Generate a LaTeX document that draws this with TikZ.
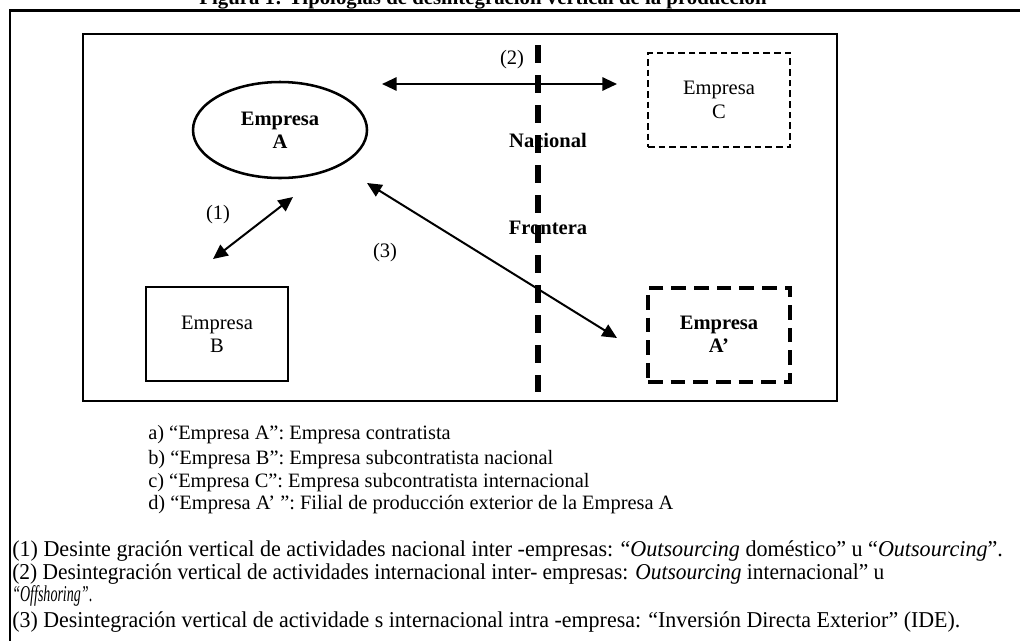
\documentclass[tikz,border=0pt]{standalone}
\usepackage{fontspec}
\setmainfont{Liberation Serif}
\usetikzlibrary{arrows.meta,shapes.geometric}
\newlength\notelen
\newcommand\notefont{\fontsize{17}{19}\selectfont}
\newcommand\noteone{(1) Desinte gración vertical de actividades nacional inter -empresas: “\textit{Outsourcing} doméstico” u “\textit{Outsourcing}”.}
\newcommand\hfitw[2]{\resizebox{#1}{\height}{#2}}
\begin{document}
\settowidth\notelen{\notefont\noteone}
\pgfmathsetmacro\notescale{743/\notelen}
\begin{tikzpicture}[x=0.75pt,y=-0.75pt,
  nodefont/.style={font=\fontsize{15.4}{17.5}\selectfont},
  firm/.style={nodefont, align=center, inner sep=0pt, minimum width=106.5pt, minimum height=70.5pt},
  plainbox/.style={firm, draw, line width=1.1pt},
  dashbox/.style={firm, draw, line width=2pt, dash pattern=on 5pt off 3pt},
  thickdash/.style={firm, draw, line width=3pt, dash pattern=on 11pt off 6pt, font=\bfseries\fontsize{15.4}{17.5}\selectfont},
  oval/.style={ellipse, draw, line width=1.9pt, minimum width=130.5pt, minimum height=72pt, align=center, inner sep=0pt, font=\bfseries\fontsize{15.4}{17.5}\selectfont},
  num/.style={nodefont, inner sep=0pt},
  border/.style={font=\bfseries\fontsize{15.4}{17.5}\selectfont, inner sep=0pt},
  link/.style={line width=1.5pt, {Triangle[length=11pt,width=10pt]}-{Triangle[length=11pt,width=10pt]}},
  legend/.style={font=\fontsize{15.3}{17}\selectfont, anchor=base west, inner sep=0pt},
  note/.style={font=\notefont, anchor=base west, inner sep=0pt}
]
\useasboundingbox (0,0) rectangle (1020,640);
% title (cut at top, as in the reference)
\node[font=\bfseries\fontsize{15.6}{18}\selectfont, anchor=base, inner sep=0pt] (title) at (483,4) {Figura 1: Tipologías de desintegración vertical de la producción};
% outer frame
\draw[line width=2.2pt] (10,641) -- (10,10.5) -- (1021,10.5);
% inner frame
\draw[line width=1.3pt] (83,34) rectangle (837,401);
% firms
\node[oval] (A) at (280,130) {Empresa\\A};
\node[plainbox] (B) at (217,334) {Empresa\\B};
\node[dashbox] (C) at (719,100) {Empresa\\C};
\node[thickdash] (Ap) at (719,334.5) {Empresa\\A’};
% border labels
\node[border] (nac) at (548,140) {Nacional};
\node[border] (fro) at (548,228) {Frontera};
% frontier
\coordinate (ftop) at (538,45);
\coordinate (fbot) at (538,392);
\draw[line width=3.8pt, dash pattern=on 13.5pt off 9pt] (ftop) -- (fbot);
% arrows
\coordinate (a1s) at (213,259);
\coordinate (a1e) at (293,197);
\coordinate (a2s) at (382,84);
\coordinate (a2e) at (617,84);
\coordinate (a3s) at (367,183);
\coordinate (a3e) at (617,338);
\draw[link] (a1s) -- (a1e);
\draw[link] (a2s) -- (a2e);
\draw[link] (a3s) -- (a3e);
\node[num] (l1) at (218,215) {(1)};
\node[num] (l2) at (512,60) {(2)};
\node[num] (l3) at (385,253) {(3)};
% legend
\node[legend] (la) at (148,439.5) {a) “Empresa A”: Empresa contratista};
\node[legend] (lb) at (148,464.5) {b) “Empresa B”: Empresa subcontratista nacional};
\node[legend] (lc) at (148,487.5) {c) “Empresa C”: Empresa subcontratista internacional};
\node[legend] (ld) at (148,509.5) {d) “Empresa A’ ”: Filial de producción exterior de la Empresa A};
% notes
\node[note] (n1) at (12,556) {\scalebox{\notescale}[1]{\noteone}};
\node[note] (n2) at (12,579) {\hfitw{654pt}{(2) Desintegración vertical de actividades internacional inter- empresas: \textit{Outsourcing} internacional” u}};
\node[note] (n2b) at (12,601) {\hfitw{60pt}{\textit{“Offshoring”}.}};
\node[note] (n3) at (12,627) {\hfitw{711pt}{(3) Desintegración vertical de actividade s internacional intra -empresa: “Inversión Directa Exterior” (IDE).}};
\end{tikzpicture}
\end{document}
